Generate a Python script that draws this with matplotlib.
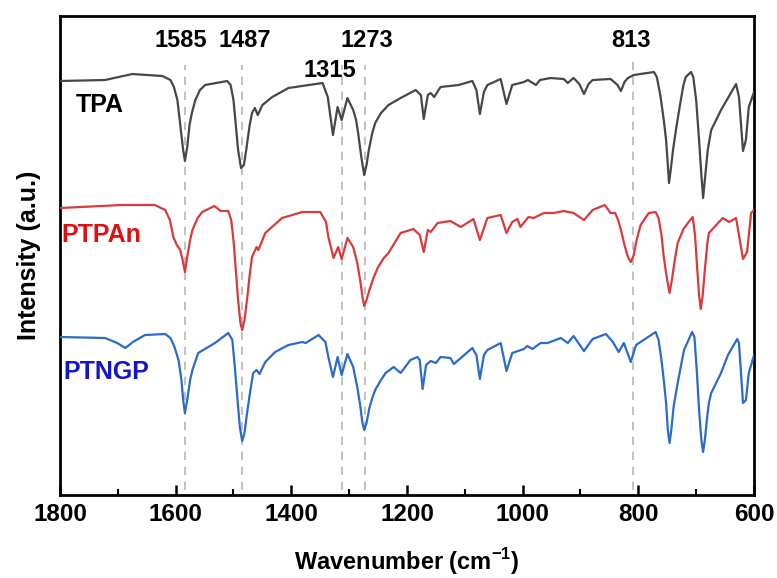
import matplotlib
matplotlib.use('Agg')
import matplotlib.pyplot as plt
from matplotlib.ticker import MultipleLocator

# wavenumber (cm-1) / intensity (a.u., stacked)
tpa_wn = [1800, 1722, 1675, 1623, 1609, 1603, 1597, 1592, 1587, 1584, 1580, 1576, 1572, 1566, 1558,
          1549, 1511, 1505, 1500, 1496, 1492, 1487, 1482, 1478, 1472, 1468, 1463, 1458, 1450, 1433,
          1405, 1346, 1337, 1328, 1320, 1313, 1303, 1293, 1288, 1284, 1279, 1274, 1270, 1266, 1260,
          1255, 1245, 1232, 1211, 1185, 1176, 1171, 1164, 1159, 1153, 1142, 1111, 1087, 1080, 1074,
          1067, 1061, 1038, 1028, 1018, 998, 991, 977, 970, 952, 929, 922, 912, 902, 894, 886, 879,
          848, 836, 830, 824, 818, 808, 773, 768, 762, 756, 752, 749, 747, 744, 740, 735, 728, 722,
          718, 709, 705, 700, 695, 691, 688, 685, 680, 674, 657, 631, 626, 619, 614, 609, 600]
tpa_int = [4.14, 4.15, 4.21, 4.19, 4.15, 4.08, 3.95, 3.70, 3.45, 3.34, 3.48, 3.70, 3.82, 3.95, 4.05,
           4.10, 4.14, 4.10, 3.95, 3.70, 3.45, 3.27, 3.30, 3.45, 3.70, 3.82, 3.87, 3.80, 3.90, 3.98,
           4.07, 4.12, 3.98, 3.60, 3.88, 3.75, 3.97, 3.85, 3.75, 3.60, 3.38, 3.20, 3.30, 3.45, 3.62,
           3.72, 3.82, 3.90, 3.97, 4.05, 4.00, 3.76, 4.00, 4.02, 3.98, 4.08, 4.10, 4.14, 4.05, 3.81,
           4.03, 4.10, 4.16, 3.91, 4.10, 4.13, 4.15, 4.10, 4.15, 4.17, 4.16, 4.12, 4.17, 4.11, 4.01,
           4.11, 4.15, 4.16, 4.10, 4.04, 4.13, 4.17, 4.20, 4.23, 4.18, 4.00, 3.75, 3.55, 3.30, 3.12,
           3.25, 3.45, 3.65, 3.90, 4.10, 4.18, 4.23, 4.18, 3.95, 3.55, 3.20, 2.97, 3.15, 3.45, 3.65,
           3.85, 4.11, 3.98, 3.44, 3.55, 3.88, 4.03]

ptpan_wn = [1800, 1693, 1636, 1618, 1610, 1604, 1598, 1592, 1588, 1584, 1580, 1575, 1571, 1562, 1554,
            1533, 1522, 1509, 1504, 1500, 1496, 1492, 1488, 1485, 1481, 1476, 1472, 1468, 1460, 1457,
            1445, 1416, 1381, 1350, 1340, 1336, 1327, 1319, 1313, 1303, 1293, 1286, 1281, 1277, 1274,
            1270, 1265, 1258, 1250, 1240, 1232, 1211, 1189, 1178, 1171, 1164, 1159, 1147, 1125, 1107,
            1085, 1074, 1061, 1038, 1028, 1018, 1009, 1004, 990, 981, 963, 946, 929, 912, 894, 879,
            858, 848, 840, 835, 830, 824, 818, 813, 808, 803, 796, 782, 770, 765, 760, 756, 751, 746,
            742, 737, 732, 722, 713, 706, 702, 698, 695, 692, 689, 685, 681, 678, 654, 643, 631, 619,
            612, 605, 600]
ptpan_int = [2.87, 2.90, 2.90, 2.85, 2.75, 2.58, 2.50, 2.45, 2.35, 2.23, 2.38, 2.55, 2.65, 2.77, 2.83,
             2.89, 2.84, 2.84, 2.75, 2.55, 2.25, 1.95, 1.72, 1.65, 1.75, 1.98, 2.20, 2.38, 2.48, 2.45,
             2.62, 2.77, 2.83, 2.83, 2.73, 2.58, 2.37, 2.48, 2.36, 2.57, 2.48, 2.32, 2.15, 1.98, 1.89,
             1.95, 2.05, 2.17, 2.28, 2.37, 2.42, 2.62, 2.66, 2.60, 2.43, 2.65, 2.63, 2.72, 2.74, 2.68,
             2.76, 2.55, 2.77, 2.80, 2.62, 2.73, 2.76, 2.68, 2.78, 2.77, 2.82, 2.82, 2.84, 2.82, 2.75,
             2.85, 2.90, 2.82, 2.82, 2.75, 2.65, 2.50, 2.38, 2.33, 2.40, 2.55, 2.70, 2.82, 2.83, 2.77,
             2.60, 2.38, 2.18, 2.02, 2.15, 2.35, 2.52, 2.66, 2.73, 2.78, 2.60, 2.25, 2.00, 1.86, 1.98,
             2.25, 2.50, 2.62, 2.77, 2.73, 2.77, 2.36, 2.43, 2.82, 2.85]

ptngp_wn = [1800, 1722, 1701, 1687, 1674, 1653, 1618, 1609, 1602, 1595, 1590, 1587, 1584, 1580, 1575,
            1571, 1561, 1532, 1509, 1502, 1498, 1493, 1489, 1485, 1481, 1477, 1472, 1466, 1460, 1455,
            1445, 1428, 1405, 1381, 1375, 1353, 1341, 1336, 1328, 1320, 1313, 1303, 1293, 1286, 1281,
            1277, 1274, 1270, 1265, 1260, 1255, 1245, 1237, 1223, 1211, 1194, 1182, 1178, 1173, 1167,
            1159, 1150, 1142, 1125, 1119, 1087, 1080, 1074, 1067, 1061, 1038, 1028, 1018, 998, 992,
            983, 969, 957, 934, 922, 912, 894, 879, 856, 844, 834, 825, 813, 804, 770, 765, 760, 756,
            752, 749, 746, 743, 739, 732, 721, 707, 703, 699, 695, 691, 688, 685, 681, 678, 674, 657,
            645, 629, 626, 619, 614, 609, 600]
ptngp_int = [1.58, 1.57, 1.52, 1.47, 1.53, 1.60, 1.61, 1.57, 1.48, 1.35, 1.15, 0.95, 0.82, 0.95, 1.15,
             1.25, 1.42, 1.52, 1.62, 1.55, 1.30, 0.95, 0.68, 0.54, 0.62, 0.80, 1.00, 1.22, 1.25, 1.21,
             1.33, 1.43, 1.50, 1.53, 1.52, 1.60, 1.53, 1.38, 1.18, 1.38, 1.20, 1.41, 1.28, 1.08, 0.90,
             0.72, 0.65, 0.72, 0.87, 0.97, 1.05, 1.15, 1.22, 1.28, 1.22, 1.35, 1.38, 1.35, 1.06, 1.30,
             1.34, 1.32, 1.38, 1.37, 1.31, 1.47, 1.40, 1.16, 1.40, 1.45, 1.52, 1.24, 1.42, 1.46, 1.49,
             1.46, 1.52, 1.52, 1.57, 1.52, 1.59, 1.44, 1.56, 1.61, 1.53, 1.43, 1.52, 1.33, 1.50, 1.63,
             1.55, 1.35, 1.15, 0.92, 0.65, 0.52, 0.65, 0.88, 1.12, 1.45, 1.63, 1.58, 1.25, 0.85, 0.55,
             0.43, 0.55, 0.78, 0.92, 1.02, 1.22, 1.40, 1.56, 1.52, 0.92, 0.95, 1.22, 1.40]

peaks = [1585, 1487, 1315, 1273, 813]
peak_lines = [1584, 1485, 1312, 1272, 810]

plt.rcParams['font.family'] = ['Liberation Sans', 'DejaVu Sans']
plt.rcParams['font.weight'] = 'bold'
plt.rcParams['mathtext.fontset'] = 'custom'
plt.rcParams['mathtext.rm'] = 'Liberation Sans:bold'
plt.rcParams['mathtext.bf'] = 'Liberation Sans:bold'

fig = plt.figure(figsize=(7.77, 5.78), dpi=100)
ax = fig.add_axes([0.0772, 0.1436, 0.8932, 0.8287])

for x, top in zip(peak_lines, [4.30, 4.30, 4.30, 4.30, 4.37]):
    ax.plot([x, x], [0.05, top], color='#b8b8b8', lw=1.2, ls=(0, (5, 4)), zorder=1)

ax.plot(tpa_wn, tpa_int, color='#474747', lw=1.6, zorder=3)
ax.plot(ptpan_wn, ptpan_int, color='#d93a3c', lw=1.6, zorder=3)
ax.plot(ptngp_wn, ptngp_int, color='#2a6cc8', lw=1.6, zorder=3)

# peak labels
lab_pos = {1585: (1592, 4.55), 1487: (1480, 4.55), 1315: (1334, 4.25), 1273: (1270, 4.55), 813: (813, 4.55)}
for p in peaks:
    x, y = lab_pos[p]
    ax.text(x, y, str(p), ha='center', va='center', fontsize=17, fontweight='bold')

ax.text(1772, 3.90, 'TPA', ha='left', va='center', fontsize=18, fontweight='bold', color='black')
ax.text(1797, 2.60, 'PTPAn', ha='left', va='center', fontsize=18, fontweight='bold', color='#e01010')
ax.text(1795, 1.23, 'PTNGP', ha='left', va='center', fontsize=18, fontweight='bold', color='#1414c8')

ax.set_xlim(1800, 600)
ax.set_ylim(0, 4.79)
ax.xaxis.set_major_locator(MultipleLocator(200))
ax.xaxis.set_minor_locator(MultipleLocator(100))
ax.set_yticks([])
ax.tick_params(axis='x', which='major', direction='in', length=7, width=1.8, labelsize=17.5, pad=6)
ax.tick_params(axis='x', which='minor', direction='in', length=4, width=1.5)
for s in ax.spines.values():
    s.set_linewidth(2)

ax.set_xlabel('Wavenumber (cm$^{-1}$)', fontsize=17, fontweight='bold', labelpad=14)
ax.set_ylabel('Intensity (a.u.)', fontsize=18, fontweight='bold', labelpad=14)

fig.savefig('out.png', dpi=100)
